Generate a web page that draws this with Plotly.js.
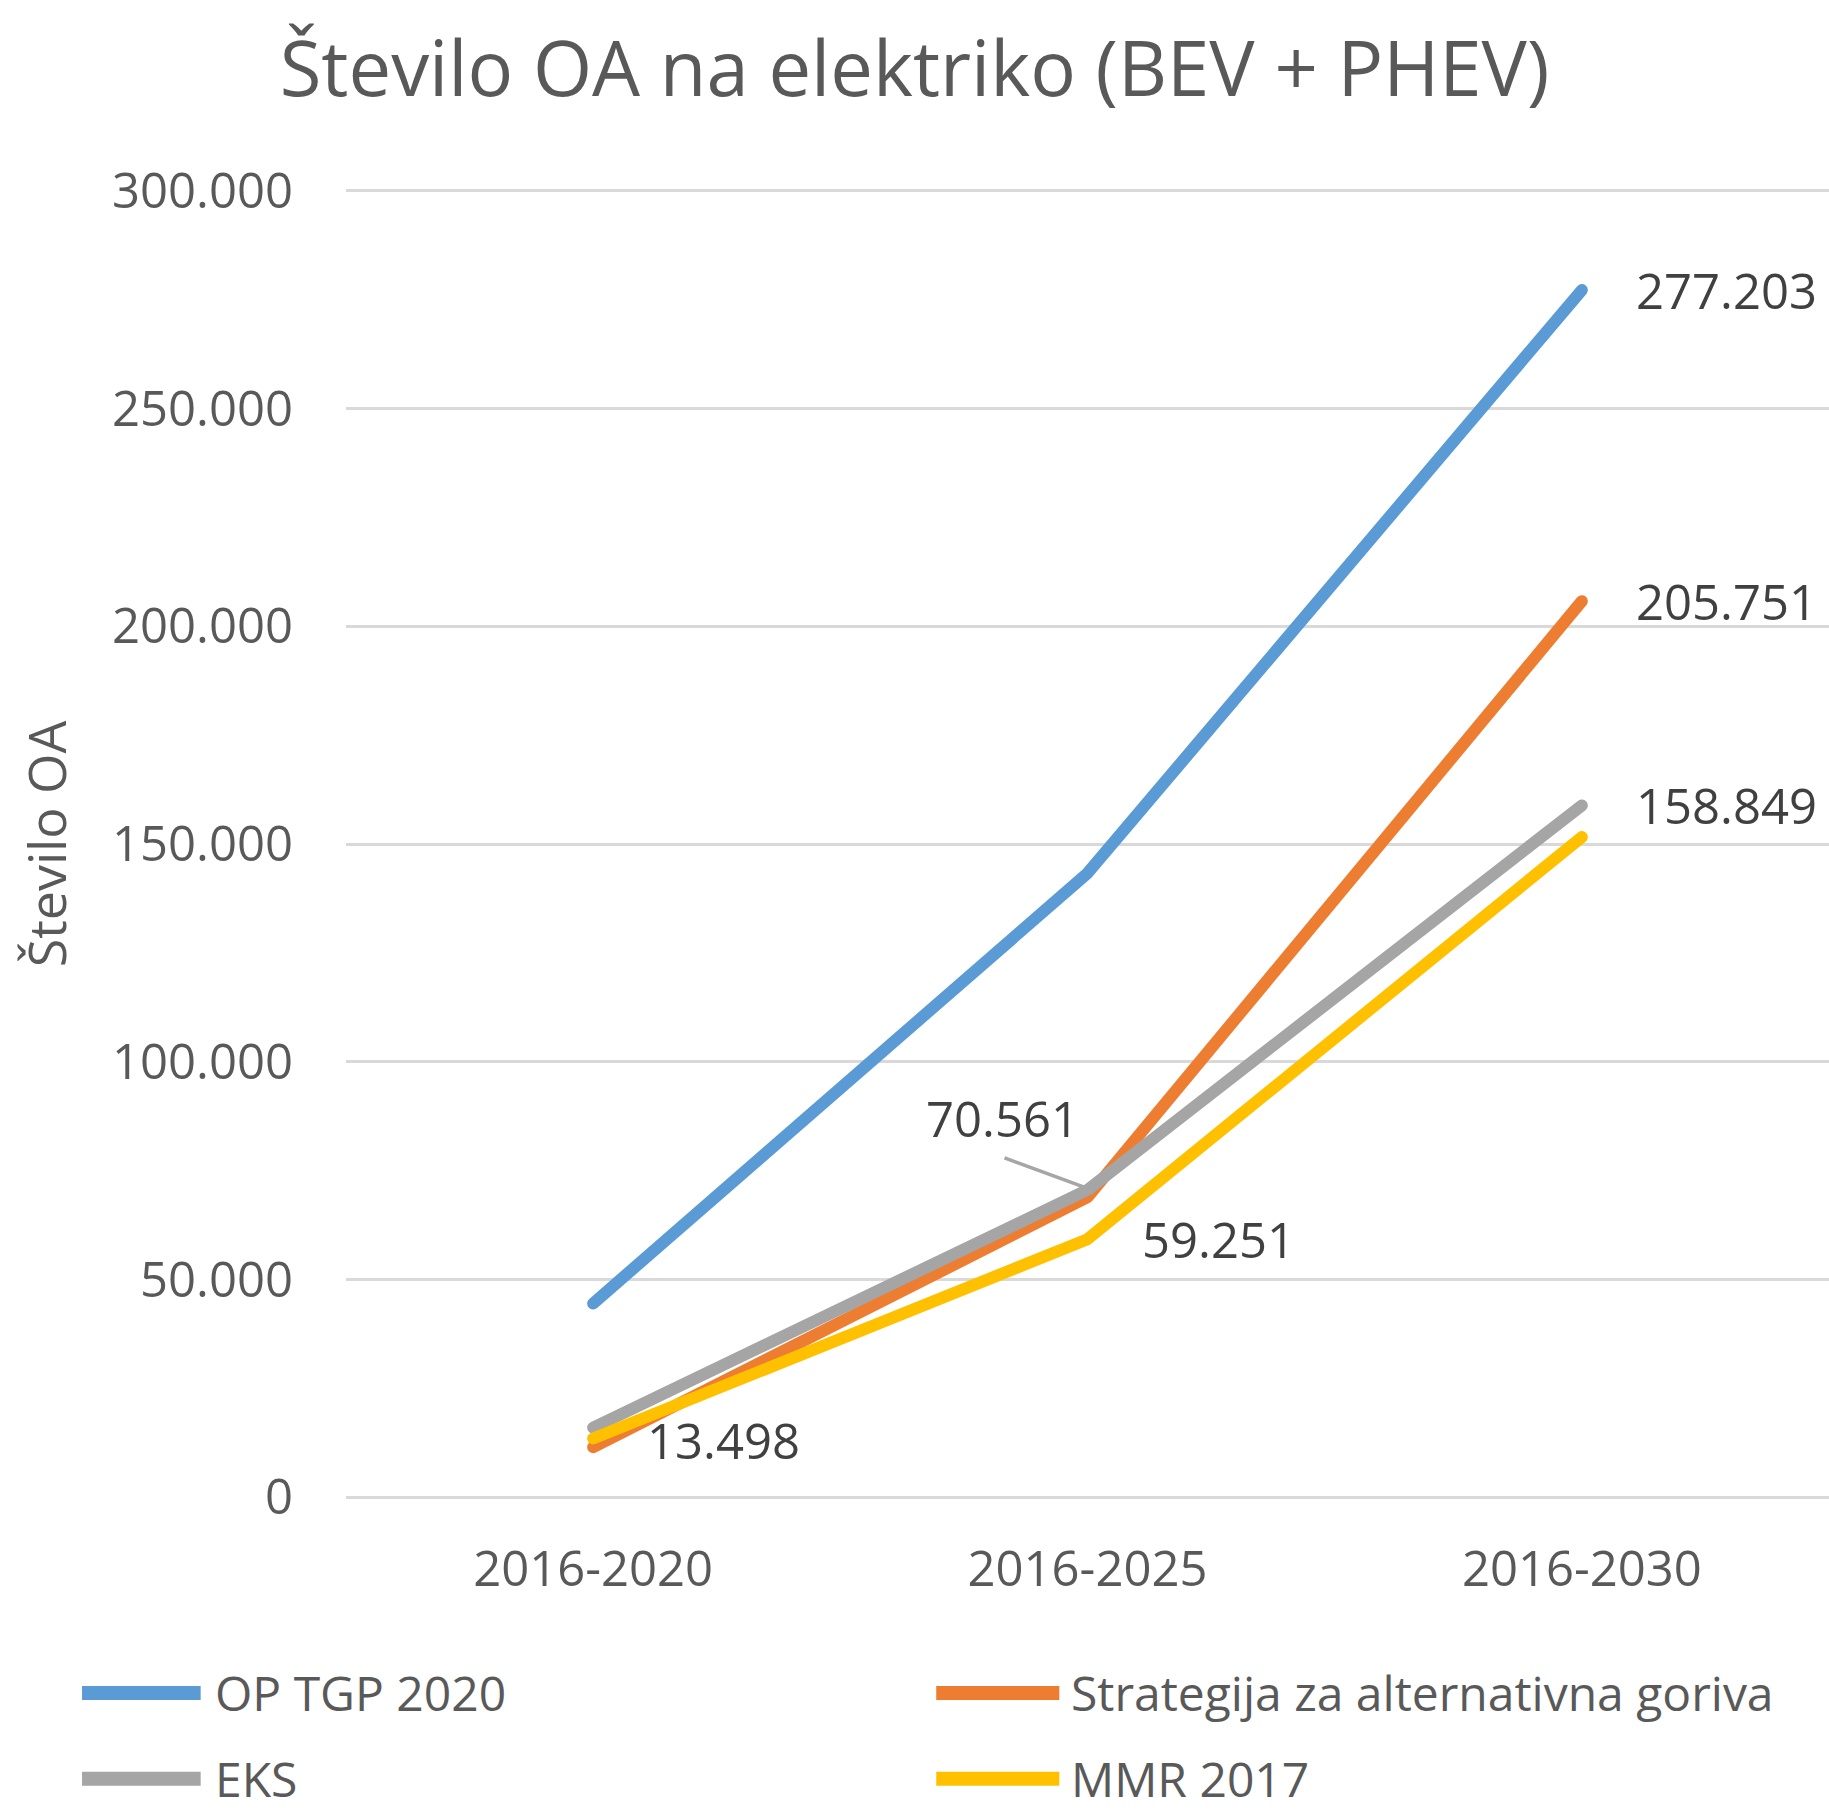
<!DOCTYPE html>
<html>
<head>
<meta charset="utf-8">
<script src="https://cdn.plot.ly/plotly-3.0.1.min.js"></script>
<style>
html,body{margin:0;padding:0;background:#fff;}
#chart{width:1829px;height:1816px;}
.scatterlayer .js-line{stroke-linejoin:round;stroke-linecap:round;}
</style>
</head>
<body>
<div id="chart"></div>
<script>
// ---- data ----
const categories = ["2016-2020", "2016-2025", "2016-2030"];
const seriesNames = ["OP TGP 2020", "Strategija za alternativna goriva", "EKS", "MMR 2017"];
const opTgp2020   = [44500, 143300, 277203];
const strategija  = [11500, 68900, 205751];
const eks         = [16000, 70561, 158849];
const mmr2017     = [13498, 59251, 151600];
const seriesColors = ["#5B9BD5", "#ED7D31", "#A5A5A5", "#FFC000"];
const yTickValues = [0, 50000, 100000, 150000, 200000, 250000, 300000];
const chartTitle = "Število OA na elektriko (BEV + PHEV)";
const yTitle = "Število OA";

const allSeries = [opTgp2020, strategija, eks, mmr2017];

// which points carry data labels: [seriesIndex, pointIndex, style]
const labelledPoints = [
  [0, 2, "right"],
  [1, 2, "right"],
  [2, 2, "right"],
  [2, 1, "leader"],
  [3, 1, "right"],
  [3, 0, "right"]
];

function fmt(v){
  return String(Math.round(v)).replace(/\B(?=(\d{3})+(?!\d))/g, ".");
}

const FONT = "Open Sans, sans-serif";

const traces = allSeries.map((vals, i) => ({
  type: "scatter",
  mode: "lines",
  x: categories,
  y: vals,
  name: seriesNames[i],
  line: {color: seriesColors[i], width: 12},
  showlegend: false,
  hoverinfo: "x+y+name"
}));

const shapes = [];
const annotations = labelledPoints.map(([s, p, style]) => {
  const base = {
    x: categories[p], y: allSeries[s][p], xref: "x", yref: "y",
    text: fmt(allSeries[s][p]),
    font: {family: FONT, size: 49, color: "#404040"},
    showarrow: false
  };
  if (style === "leader") {
    // leader line anchored at the data point, offsets in pixels
    shapes.push({
      type: "line", xref: "x", yref: "y",
      xsizemode: "pixel", ysizemode: "pixel",
      xanchor: categories[p], yanchor: allSeries[s][p],
      x0: -83, y0: 32, x1: -4, y1: 3,
      line: {color: "#A6A6A6", width: 3.5}
    });
    return Object.assign(base, {xanchor: "center", yanchor: "middle", xshift: -85, yshift: 72});
  }
  return Object.assign(base, {xanchor: "left", xshift: 52, yshift: (s === 3 && p === 0) ? -2 : 0});
});

// custom legend (two columns, two rows) in paper coordinates
const legendPos = [
  {x0: -0.178, x1: -0.098, tx: -0.0895, y: -0.148},
  {x0: 0.398, x1: 0.481, tx: 0.4878, y: -0.148},
  {x0: -0.178, x1: -0.098, tx: -0.0895, y: -0.2135},
  {x0: 0.398, x1: 0.481, tx: 0.4878, y: -0.2135}
];
seriesNames.forEach((n, i) => {
  shapes.push({
    type: "line", xref: "paper", yref: "paper",
    x0: legendPos[i].x0, x1: legendPos[i].x1, y0: legendPos[i].y, y1: legendPos[i].y,
    line: {color: seriesColors[i], width: 14}
  });
  annotations.push({
    xref: "paper", yref: "paper", x: legendPos[i].tx, y: legendPos[i].y,
    xanchor: "left", yanchor: "middle", showarrow: false,
    text: n, font: {family: FONT, size: 48, color: "#595959"}
  });
});

const layout = {
  width: 1829, height: 1816,
  paper_bgcolor: "#ffffff", plot_bgcolor: "#ffffff",
  separators: ",.",
  margin: {l: 346, r: 0, t: 189, b: 317, pad: 0},
  title: {
    text: chartTitle, x: 0.5, xref: "container", xanchor: "center",
    y: 0.962, yref: "container", yanchor: "middle",
    font: {family: FONT, size: 76, color: "#595959"}
  },
  xaxis: {
    type: "category", range: [-0.5, 2.5],
    showgrid: false, zeroline: false, showline: false, ticks: "",
    tickfont: {family: FONT, size: 49, color: "#595959"},
    ticklabelstandoff: 37
  },
  yaxis: {
    range: [-400, 300400], tickvals: yTickValues, tickformat: ",d",
    showgrid: true, gridcolor: "#D9D9D9", gridwidth: 3,
    zeroline: false, showline: false, ticks: "",
    tickfont: {family: FONT, size: 49, color: "#595959"},
    ticklabelstandoff: 52,
    title: {text: yTitle, font: {family: FONT, size: 52, color: "#595959"}, standoff: 28}
  },
  shapes: shapes,
  annotations: annotations,
  showlegend: false
};

Plotly.newPlot("chart", traces, layout, {displayModeBar: false, staticPlot: true});
</script>
</body>
</html>
